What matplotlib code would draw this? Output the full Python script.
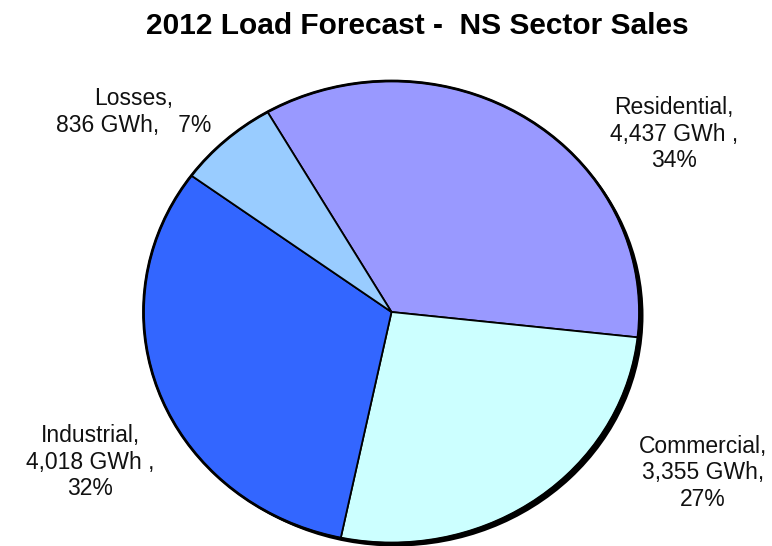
import matplotlib
matplotlib.use("Agg")
import matplotlib.pyplot as plt
from matplotlib.patches import Ellipse

# Sector sales, 2012 load forecast (GWh)
sectors = ["Residential", "Commercial", "Industrial", "Losses"]
sales_gwh = [4437, 3355, 4018, 836]
pct_labels = ["34%", "27%", "32%", "7%"]
colors = ["#9999FF", "#CCFFFF", "#3366FF", "#99CCFF"]

W, H = 772, 546
fig = plt.figure(figsize=(W / 100, H / 100), dpi=100)
plt.rcParams["font.family"] = ["Liberation Sans", "DejaVu Sans"]

# pie occupies an ellipse centred at (391.5, 312) px, radii 248 x 231 px
cx, cy, rx, ry = 391.5, 312, 248, 231
ax = fig.add_axes([(cx - rx) / W, (H - cy - ry) / H, 2 * rx / W, 2 * ry / H])

wedges, _ = ax.pie(sales_gwh, colors=colors, startangle=120, counterclock=False,
                   radius=1.0, wedgeprops=dict(edgecolor="black", linewidth=1.3))
for w in wedges:
    w.set_zorder(3)
ax.set_aspect("auto")
ax.set_xlim(-1, 1)
ax.set_ylim(-1, 1)
ax.axis("off")

# dark drop shadow behind the pie
shadow = Ellipse((4 / rx, -3.5 / ry), 2.0, 2.0, facecolor="black", edgecolor="none",
                 zorder=1, clip_on=False)
ax.add_patch(shadow)
outline = Ellipse((0, 0), 2.0, 2.0, facecolor="none", edgecolor="black",
                  linewidth=2.0, zorder=4, clip_on=False)
ax.add_patch(outline)

fig.text(417 / W, (H - 34) / H, "2012 Load Forecast -  NS Sector Sales",
         ha="center", va="baseline", fontsize=21.5, fontweight="bold")

label_text = [
    f"{sectors[0]},\n{sales_gwh[0]:,} GWh ,\n{pct_labels[0]}",
    f"{sectors[1]},\n{sales_gwh[1]:,} GWh,\n{pct_labels[1]}",
    f"{sectors[2]},\n{sales_gwh[2]:,} GWh ,\n{pct_labels[2]}",
    f"{sectors[3]},\n{sales_gwh[3]:,} GWh,   {pct_labels[3]}",
]
label_pos = [(674, 134), (703, 473), (90, 462), (134, 112)]
for txt, (x, y) in zip(label_text, label_pos):
    fig.text(x / W, (H - y) / H, txt, ha="center", va="center",
             multialignment="center", fontsize=16.5, linespacing=1.22, color="#111111")

fig.savefig("out.png", dpi=100)
